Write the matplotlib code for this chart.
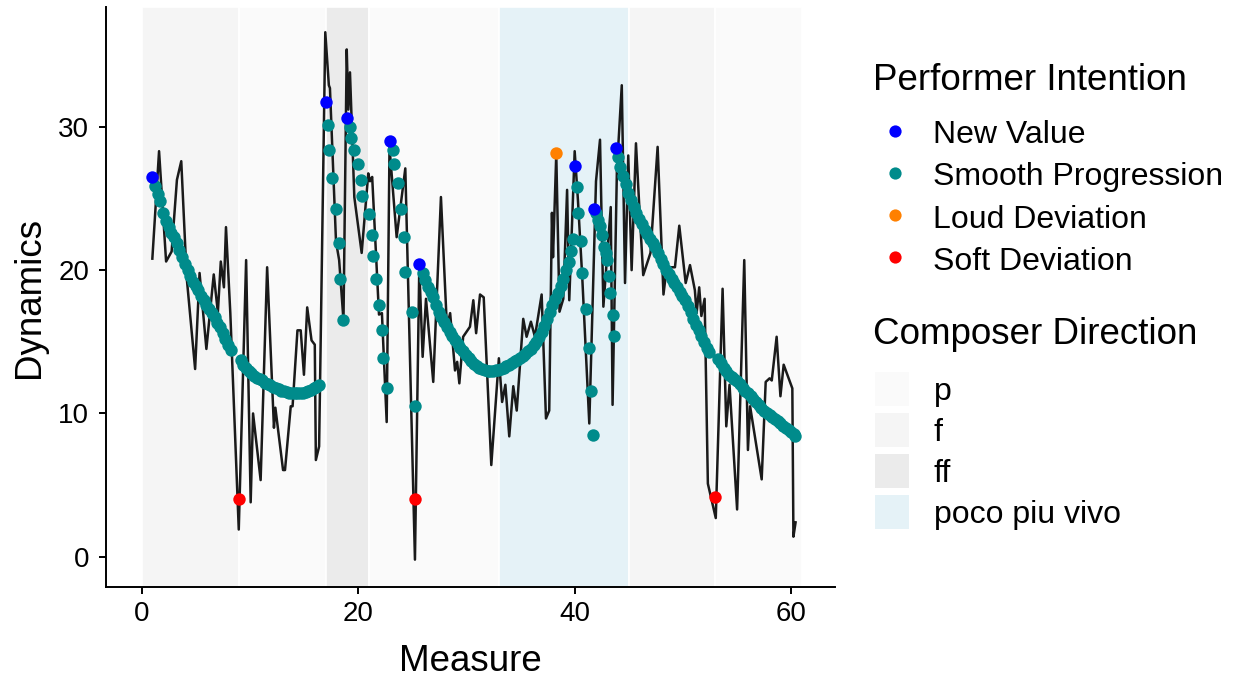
import matplotlib
matplotlib.use('Agg')
import matplotlib.pyplot as plt
from matplotlib.patches import Patch
from matplotlib.lines import Line2D

plt.rcParams['font.family'] = ['Liberation Sans', 'DejaVu Sans']

# ---- Composer direction bands ----
band_start = [0, 9, 17, 21, 33, 45, 53]
band_end = [9, 17, 21, 33, 45, 53, 61]
band_label = ['f', 'p', 'ff', 'p', 'poco piu vivo', 'f', 'p']
direction_levels = ['p', 'f', 'ff', 'poco piu vivo']
direction_colors = {'p': '#FAFAFA', 'f': '#F5F5F5', 'ff': '#EBEBEB',
                    'poco piu vivo': '#E5F2F7'}

# ---- Observed dynamics (black line) ----
line_x = [1.0, 1.62, 2.27, 2.78, 3.27, 3.67, 4.17, 4.95, 5.36, 5.99, 6.67, 7.05,
          7.32, 7.61, 7.8, 8.2, 8.98, 9.66, 10.08, 10.3, 11.0, 11.6, 12.23, 12.36,
          13.07, 13.25, 13.78, 13.95, 14.4, 14.7, 15.0, 15.3, 15.7, 16.0, 16.1, 16.4,
          16.97, 17.3, 17.4, 17.96, 18.25, 18.65, 18.95, 19.1, 19.25, 19.65, 20.33,
          20.94, 21.1, 21.3, 21.93, 22.2, 22.64, 22.9, 23.56, 24.36, 25.25, 25.65,
          25.96, 26.27, 26.94, 27.65, 28.2, 28.5, 28.95, 29.15, 29.35, 29.7, 30.33,
          30.64, 30.9, 31.26, 31.6, 32.3, 33.0, 33.3, 33.6, 33.96, 34.33, 34.65,
          35.25, 35.56, 35.96, 36.33, 36.95, 37.35, 37.65, 37.9, 38.0, 38.3, 38.6,
          38.95, 39.3, 39.5, 40.0, 40.3, 40.7, 41.35, 41.97, 42.34, 42.65, 43.0,
          43.33, 43.5, 43.9, 44.35, 44.65, 44.95, 45.26, 45.66, 45.97, 46.33, 47.0,
          47.66, 48.2, 48.5, 49.26, 49.66, 50.25, 50.65, 51.1, 51.26, 51.5, 51.7,
          52.0, 52.3, 53.03, 53.66, 54.0, 54.3, 55.0, 55.66, 56.0, 56.2, 57.27,
          57.64, 58.0, 58.2, 58.65, 59.0, 59.3, 60.1, 60.2, 60.4]
line_y = [20.8, 28.3, 20.6, 21.3, 26.3, 27.6, 19.5, 13.1, 19.8, 14.5, 19.7, 17.05,
          20.6, 18.8, 23.0, 17.0, 1.9, 20.7, 3.8, 10.0, 5.35, 20.2, 9.0, 10.4,
          6.05, 6.05, 10.5, 10.5, 15.8, 15.8, 12.7, 17.4, 15.1, 14.8, 6.75, 7.7,
          36.6, 32.9, 32.7, 22.0, 20.7, 16.5, 35.4, 31.2, 33.8, 25.1, 21.2,
          26.75, 26.2, 26.5, 16.9, 17.0, 9.4, 28.6, 22.3, 27.1, -0.2, 20.2,
          13.95, 18.0, 12.2, 25.1, 16.05, 17.0, 13.0, 13.6, 12.1, 15.35, 16.05,
          17.9, 15.6, 18.3, 18.1, 6.4, 13.85, 10.8, 12.0, 8.4, 11.9, 10.2,
          16.6, 15.35, 16.4, 15.35, 18.3, 9.65, 10.2, 24.0, 20.9, 28.1, 17.1,
          18.0, 25.6, 17.9, 28.3, 24.9, 19.5, 9.3, 26.2, 29.1, 17.45, 21.0,
          24.4, 10.6, 27.0, 32.9, 19.1, 28.0, 20.0, 28.85, 24.4, 19.65, 21.2,
          28.6, 18.3, 20.2, 20.2, 23.1, 19.1, 20.35, 18.6, 17.0, 18.8, 16.8,
          18.0, 5.1, 2.7, 18.7, 9.1, 12.0, 3.3, 20.7, 7.45, 10.5, 5.4,
          12.2, 12.45, 12.3, 15.35, 11.2, 13.4, 11.75, 1.4, 2.4]

# ---- Performer intention: smooth progression ----
smooth_x = [1.25, 1.5, 1.75, 2.0, 2.25, 2.5, 2.75, 3.0, 3.25, 3.5, 3.75, 4.0, 4.25,
            4.5, 4.75, 5.0, 5.25, 5.5, 5.75, 6.0, 6.25, 6.5, 6.75, 7.0, 7.25, 7.5,
            7.75, 8.0, 8.25,
            9.15, 9.4, 9.65, 9.9, 10.15, 10.4, 10.65, 10.9, 11.15, 11.4, 11.65, 11.9,
            12.15, 12.4, 12.65, 12.9, 13.15, 13.4, 13.65, 13.9, 14.15, 14.4, 14.65,
            14.9, 15.15, 15.4, 15.65, 15.9, 16.15, 16.4,
            17.25, 17.35, 17.6, 17.96, 18.24, 18.33, 18.64,
            19.25, 19.34, 19.65, 20.0, 20.24, 20.33, 21.0, 21.25, 21.35, 21.65, 21.96,
            22.24, 22.33, 22.64,
            23.25, 23.34, 23.65, 23.96, 24.24, 24.33, 25.0, 25.3,
            25.96, 26.2, 26.45, 26.7, 26.95, 27.2, 27.45, 27.7, 27.95, 28.2, 28.45,
            28.7, 28.95, 29.2, 29.45, 29.7, 29.95, 30.2, 30.45, 30.7, 30.95, 31.2,
            31.45, 31.7, 31.95, 32.2, 32.45, 32.7, 32.95, 33.2, 33.45, 33.7, 33.95,
            34.2, 34.45, 34.7, 34.95, 35.2, 35.45, 35.7, 35.95, 36.2, 36.45, 36.7,
            36.95, 37.2, 37.45, 37.7, 37.95, 38.2, 38.45, 38.7, 38.95, 39.2, 39.45,
            39.65, 39.8,
            40.2, 40.35, 40.55, 40.7, 41.0, 41.3, 41.5, 41.66,
            42.0, 42.15, 42.3, 42.5, 42.7, 42.85, 43.0, 43.2, 43.3, 43.5, 43.66,
            43.97, 44.2, 44.45, 44.7, 44.95, 45.2, 45.45, 45.7, 45.95, 46.2, 46.45,
            46.7, 46.95, 47.2, 47.45, 47.7, 47.95, 48.2, 48.45, 48.7, 48.95, 49.2,
            49.45, 49.7, 49.95, 50.2, 50.45, 50.7, 50.95, 51.2, 51.45, 51.7, 51.95,
            52.2, 52.45,
            53.25, 53.5, 53.75, 54.0, 54.25, 54.5, 54.75, 55.0, 55.25, 55.5, 55.75,
            56.0, 56.25, 56.5, 56.75, 57.0, 57.25, 57.5, 57.75, 58.0, 58.25, 58.5,
            58.75, 59.0, 59.25, 59.5, 59.75, 60.0, 60.25, 60.34]
smooth_y = [25.9, 25.3, 24.8, 24.0, 23.4, 23.0, 22.6, 22.3, 21.9, 21.4, 20.9, 20.4,
            20.0, 19.6, 19.2, 18.9, 18.6, 18.2, 17.9, 17.6, 17.3, 17.0, 16.7, 16.3,
            16.0, 15.6, 15.2, 14.8, 14.4,
            13.7, 13.4, 13.15, 12.95, 12.8, 12.6, 12.5, 12.4, 12.3, 12.15, 12.05, 11.95,
            11.85, 11.8, 11.7, 11.6, 11.55, 11.5, 11.45, 11.45, 11.4, 11.4, 11.45,
            11.45, 11.5, 11.55, 11.65, 11.75, 11.85, 11.95,
            30.1, 28.4, 26.4, 24.3, 21.9, 19.4, 16.5,
            30.0, 29.2, 28.4, 27.4, 26.3, 25.2, 23.9, 22.45, 21.0, 19.4, 17.6,
            15.8, 13.85, 11.8,
            28.4, 27.4, 26.05, 24.3, 22.3, 19.9, 17.1, 10.5,
            19.8, 19.3, 18.8, 18.45, 18.1, 17.6, 17.1, 16.7, 16.35, 16.05, 15.7,
            15.4, 15.1, 14.85, 14.6, 14.35, 14.1, 13.85, 13.65, 13.45, 13.3, 13.2,
            13.1, 13.0, 12.95, 12.95, 12.95, 13.0, 13.05, 13.1, 13.2, 13.3, 13.4,
            13.5, 13.65, 13.75, 13.85, 14.0, 14.15, 14.35, 14.5, 14.75, 15.0, 15.3,
            15.7, 16.1, 16.6, 17.1, 17.6, 18.0, 18.4, 18.9, 19.4, 20.0, 20.6,
            21.3, 22.2,
            25.8, 24.0, 22.0, 19.8, 17.3, 14.6, 11.6, 8.5,
            24.0, 23.5, 23.1, 22.45, 21.6, 21.2, 20.7, 19.6, 18.4, 16.9, 15.4,
            27.9, 27.2, 26.6, 26.0, 25.4, 24.9, 24.4, 24.0, 23.6, 23.2, 22.8,
            22.5, 22.2, 21.9, 21.6, 21.2, 20.8, 20.4, 20.0, 19.7, 19.4, 19.1,
            18.8, 18.5, 18.2, 17.9, 17.5, 17.1, 16.6, 16.2, 15.8, 15.4, 15.0,
            14.6, 14.3,
            13.8, 13.5, 13.2, 12.95, 12.7, 12.55, 12.4, 12.25, 12.05, 11.8, 11.6,
            11.4, 11.2, 11.0, 10.8, 10.6, 10.4, 10.2, 10.05, 9.9, 9.75, 9.6,
            9.45, 9.3, 9.15, 9.0, 8.85, 8.7, 8.55, 8.45]

# ---- Other performer intentions ----
new_x = [1.0, 17.0, 19.0, 22.95, 25.65, 40.0, 41.8, 43.8]
new_y = [26.5, 31.7, 30.6, 29.0, 20.4, 27.3, 24.3, 28.5]
loud_x = [38.3]
loud_y = [28.2]
soft_x = [8.97, 25.25, 53.0]
soft_y = [4.05, 4.05, 4.15]

intention_labels = ['New Value', 'Smooth Progression', 'Loud Deviation', 'Soft Deviation']
intention_colors = ['#0000FF', '#008B8B', '#FF8000', '#FF0000']

x_ticks = [0, 20, 40, 60]
y_ticks = [0, 10, 20, 30]

# ---- figure ----
W, H = 1236, 679
fig = plt.figure(figsize=(W / 100, H / 100), dpi=100)
ax = fig.add_axes([106 / W, 1 - 587 / H, (835 - 106) / W, (587 - 7) / H])

for s, e, lab in zip(band_start, band_end, band_label):
    ax.axvspan(s, e, facecolor=direction_colors[lab], edgecolor='white',
               linewidth=1.2, zorder=0)

ax.plot(line_x, line_y, color='#1A1A1A', linewidth=1.8, zorder=2)

ms = 80
ax.scatter(smooth_x, smooth_y, s=ms, color=intention_colors[1], linewidths=0, zorder=3)
ax.scatter(new_x, new_y, s=ms, color=intention_colors[0], linewidths=0, zorder=4)
ax.scatter(loud_x, loud_y, s=ms, color=intention_colors[2], linewidths=0, zorder=4)
ax.scatter(soft_x, soft_y, s=ms, color=intention_colors[3], linewidths=0, zorder=4)

ax.set_xlim(-3.28, 64.04)
ax.set_ylim(-2.11, 38.36)
ax.set_xticks(x_ticks)
ax.set_yticks(y_ticks)
for side in ['top', 'right']:
    ax.spines[side].set_visible(False)
for side in ['left', 'bottom']:
    ax.spines[side].set_linewidth(1.4)
ax.tick_params(axis='both', length=5, width=1.4, labelsize=20, colors='black')
ax.tick_params(axis='x', pad=5)
ax.tick_params(axis='y', pad=7)
ax.set_xlabel('Measure', fontsize=26.5, labelpad=12)
ax.set_ylabel('Dynamics', fontsize=26.5, labelpad=8)

# ---- legends ----
fig.text(873 / W, 1 - 80 / H, 'Performer Intention', fontsize=26.5,
         ha='left', va='center')
fig.text(873 / W, 1 - 335 / H, 'Composer Direction', fontsize=26.5,
         ha='left', va='center')

h1 = [Line2D([], [], linestyle='none', marker='o', markersize=8.8,
             markerfacecolor=c, markeredgewidth=0) for c in intention_colors]
leg1 = fig.legend(h1, intention_labels, loc='upper left',
                  bbox_to_anchor=(872 / W, 1 - 118 / H), frameon=False,
                  fontsize=23, handlelength=1.44, handleheight=1.0,
                  handletextpad=0.47, labelspacing=0.31, borderpad=0, borderaxespad=0)
h2 = [Patch(facecolor=direction_colors[l], edgecolor='none') for l in direction_levels]
leg2 = fig.legend(h2, direction_levels, loc='upper left',
                  bbox_to_anchor=(875 / W, 1 - 372 / H), frameon=False,
                  fontsize=23, handlelength=1.065, handleheight=1.26,
                  handletextpad=0.78, labelspacing=0.2, borderpad=0, borderaxespad=0)

fig.savefig('out.png', dpi=100)
